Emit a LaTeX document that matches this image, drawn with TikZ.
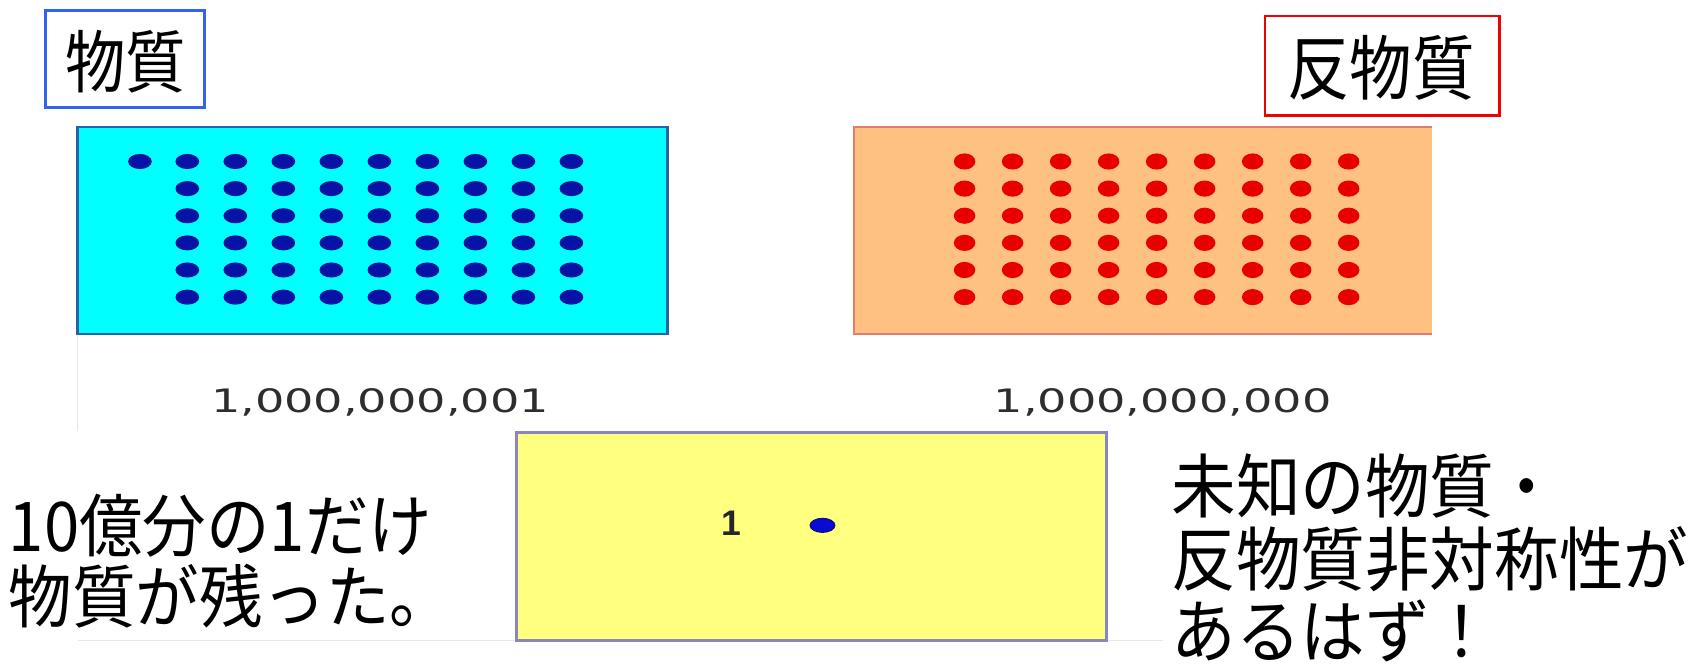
\documentclass[tikz,border=0pt]{standalone}
\usepackage{fontspec}
\usepackage{graphicx}
\newfontfamily\jp{Noto Sans CJK JP}
\newfontfamily\numfont{DejaVu Sans}
\newfontfamily\onefont{Liberation Sans}
\definecolor{cyanfill}{RGB}{0,255,255}
\definecolor{cyanedge}{RGB}{40,100,165}
\definecolor{orangefill}{RGB}{255,193,130}
\definecolor{orangeedge}{RGB}{225,125,110}
\definecolor{yellowfill}{RGB}{255,255,128}
\definecolor{yellowedge}{RGB}{140,132,190}
\definecolor{dotblue}{RGB}{8,18,165}
\definecolor{dotbright}{RGB}{10,10,215}
\definecolor{dotred}{RGB}{232,0,0}
\definecolor{labelblue}{RGB}{50,100,240}
\definecolor{labelred}{RGB}{240,0,0}
\definecolor{numgray}{RGB}{45,45,45}
\definecolor{faint}{RGB}{232,232,232}
\newcommand{\tallA}[1]{\scalebox{1}[1.13]{#1}}
\newcommand{\tallB}[1]{\scalebox{1}[1.08]{#1}}
\tikzset{
  labeljp/.style={font=\jp\fontsize{56}{60}\selectfont, inner sep=0pt},
  leftjp/.style={font=\jp\fontsize{59}{60}\selectfont, inner sep=0pt, anchor=base west},
  rightjp/.style={font=\jp\fontsize{60}{60}\selectfont, inner sep=0pt, anchor=base west},
  numtext/.style={font=\numfont\fontsize{30}{32}\selectfont, text=numgray, inner sep=0pt}
}
\begin{document}
\begin{tikzpicture}[x=1pt,y=-1pt]
\path[use as bounding box, fill=white] (0,0) rectangle (1568,619);

% faint background frame
\draw[faint, line width=1.2pt] (72,310) -- (72,400);
\draw[faint, line width=1.2pt] (72,595) -- (480,595);
\draw[faint, line width=1.2pt] (1028,595) -- (1080,595);

% label boxes
\draw[labelblue, line width=2.5pt] (42,10) rectangle (190,100);
\node[labeljp] (lmatter) at (117,57) {\tallA{物質}};
\draw[labelred, line width=2.5pt] (1175,15) rectangle (1393,107);
\node[labeljp, font=\jp\fontsize{58}{60}\selectfont] (lanti) at (1283,63) {\tallA{反物質}};

% matter box
\fill[cyanfill] (72,118) rectangle (620,310);
\draw[cyanedge, line width=2pt] (72,118) rectangle (620,310);
\fill[dotblue] (130,150) ellipse (11 and 7);
\foreach \r in {0,...,5}{
  \foreach \c in {0,...,8}{
    \fill[dotblue] ({174+44.6*\c},{150+25.2*\r}) ellipse (11 and 7);
  }
}

% antimatter box
\fill[orangefill] (793,118) rectangle (1330,310);
\draw[orangeedge, line width=2pt] (1330,118) -- (793,118) -- (793,310) -- (1330,310);
\foreach \r in {0,...,5}{
  \foreach \c in {0,...,8}{
    \fill[dotred] ({896+44.6*\c},{150+25.2*\r}) ellipse (10 and 7.5);
  }
}

% numbers
\node[numtext] (nmatter) at (353,374) {\scalebox{1.43}[1]{1,000,000,001}};
\node[numtext] (nanti) at (1080,374) {\scalebox{1.43}[1]{1,000,000,000}};

% remainder box
\fill[yellowfill] (480,402) rectangle (1028,595);
\draw[yellowedge, line width=2.5pt] (480,402) rectangle (1028,595);
\node[font=\onefont\bfseries\fontsize{33}{36}\selectfont, text=black!85, inner sep=0pt] (one) at (679,486) {1};
\filldraw[fill=dotbright, draw=dotblue!70!black, line width=1pt] (764,488) ellipse (11.5 and 6.5);

% explanatory texts
\node[leftjp] (left1) at (8,512) {\tallB{10億分の1だけ}};
\node[leftjp] (left2) at (8,578) {\tallB{物質が残った。}};
\node[rightjp] (right1) at (1088,476) {\tallB{未知の物質・}};
\node[rightjp] (right2) at (1088,544) {\tallB{反物質非対称性が}};
\node[rightjp] (right3) at (1088,611) {\tallB{あるはず！}};
\end{tikzpicture}
\end{document}
